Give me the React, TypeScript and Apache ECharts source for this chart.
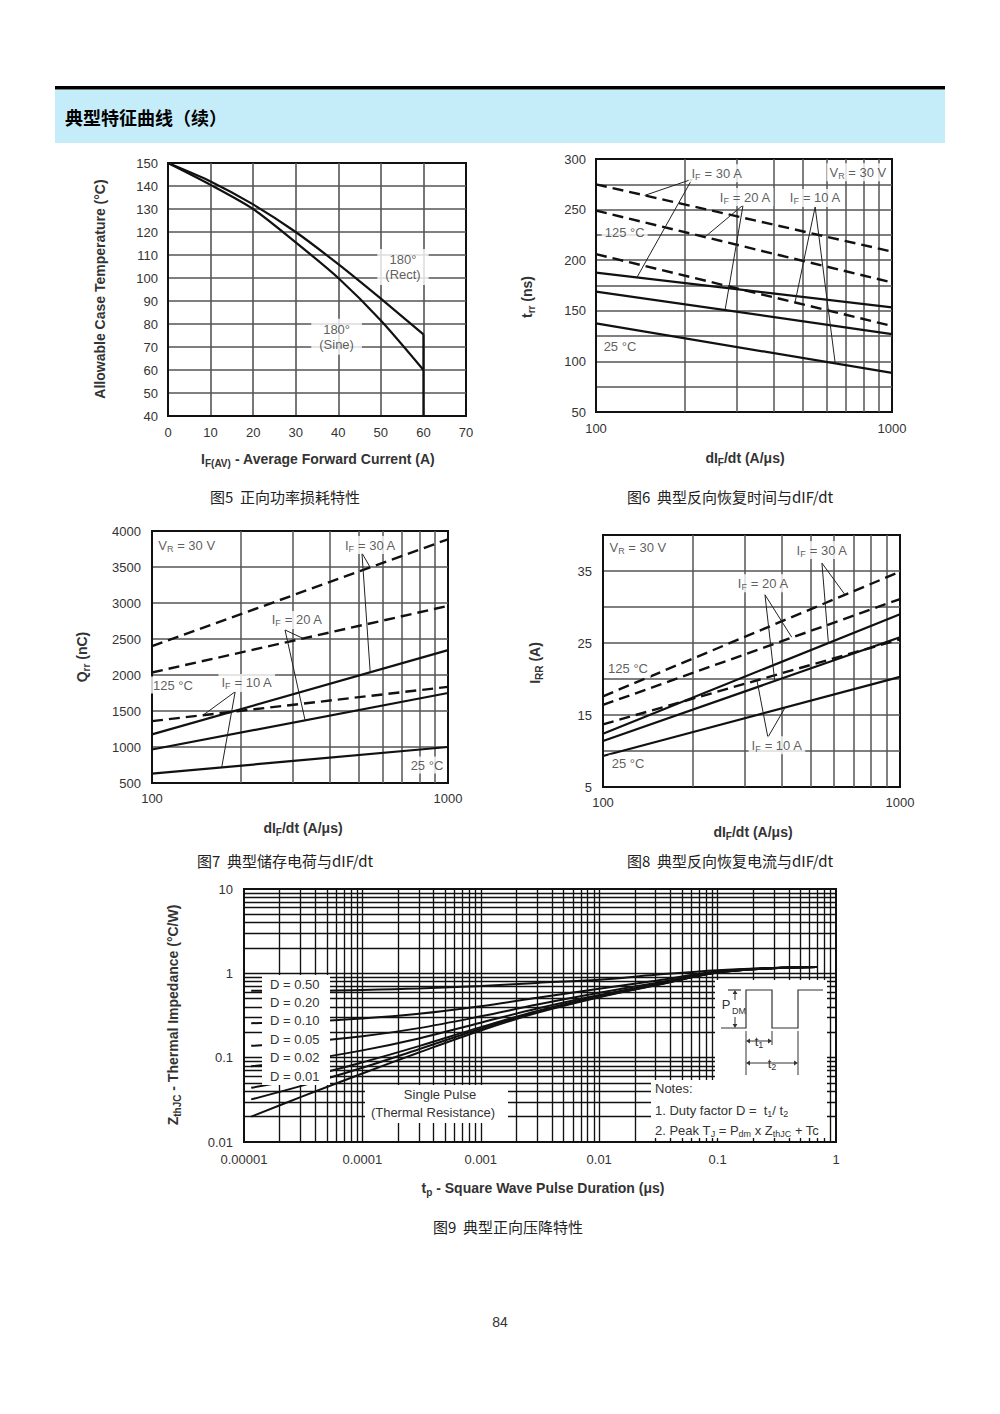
import React, { useEffect, useRef } from "react";
import * as echarts from "echarts";

const FONT = '"Liberation Sans", Arial, Helvetica, sans-serif';
const CJK = '"Noto Sans CJK SC", "Noto Sans", sans-serif';
const TXT = "#333";
const INK = "#111";

/* ---------------- data ---------------- */
// Fig 5 – allowable case temperature vs average forward current
const f5Current = [0, 10, 20, 30, 40, 50, 60];
const f5Rect = [150, 142, 132, 120, 106, 91, 75.5];
const f5Sine = [150, 140.5, 130, 115.5, 100, 81.5, 60];
const f5DropCurrent = [60, 60];
const f5DropTemp = [75.5, 40];

// Fig 6..8 – dIF/dt end points
const f68Rate = [100, 1000];

// Fig 6 – trr (ns)
const f6Dash30 = [275, 208.5];
const f6Dash20 = [249, 178];
const f6Dash10 = [206, 135];
const f6Solid30 = [187.7, 153.4];
const f6Solid20 = [169, 127];
const f6Solid10 = [137.5, 88.6];

// Fig 7 – Qrr (nC)
const f7Dash30 = [2400, 3885];
const f7Dash20 = [2035, 2960];
const f7Dash10 = [1360, 1835];
const f7Solid30 = [1175, 2345];
const f7Solid20 = [965, 1750];
const f7Solid10 = [630, 1000];

// Fig 8 – IRR (A)
const f8Dash30 = [17.6, 34.9];
const f8Dash20 = [16.4, 31.1];
const f8Dash10 = [13.7, 25.5];
const f8Solid30 = [12.4, 29.0];
const f8Solid20 = [11.4, 25.8];
const f8Solid10 = [9.3, 20.3];

// Fig 9 – transient thermal impedance
const f9Time = [1.15e-5, 3e-5, 1e-4, 3e-4, 1e-3, 3e-3, 1e-2, 3e-2, 0.1, 0.3, 0.69];
const f9D50 = [0.62, 0.62, 0.635, 0.66, 0.71, 0.77, 0.84, 0.96, 1.09, 1.16, 1.19];
const f9D20 = [0.256, 0.267, 0.292, 0.332, 0.408, 0.512, 0.656, 0.816, 1.056, 1.16, 1.19];
const f9D10 = [0.138, 0.151, 0.179, 0.224, 0.309, 0.426, 0.588, 0.768, 1.038, 1.155, 1.19];
const f9D05 = [0.079, 0.092, 0.122, 0.169, 0.26, 0.383, 0.554, 0.744, 1.029, 1.153, 1.19];
const f9D02 = [0.044, 0.057, 0.088, 0.137, 0.23, 0.357, 0.534, 0.73, 1.024, 1.151, 1.19];
const f9D01 = [0.032, 0.046, 0.076, 0.126, 0.22, 0.349, 0.527, 0.725, 1.022, 1.15, 1.19];
const f9Single = [0.02, 0.034, 0.065, 0.115, 0.21, 0.34, 0.52, 0.72, 1.02, 1.15, 1.19];
const f9DLabels = ["D = 0.50", "D = 0.20", "D = 0.10", "D = 0.05", "D = 0.02", "D = 0.01"];

/* ---------------- annotations (data coordinates) ---------------- */
const f5Notes = [
  { x: 55.2, y: 104.8, t: "{n|180°}\n{n|(Rect)}" },
  { x: 39.6, y: 74.5, t: "{n|180°}\n{n|(Sine)}" },
];
const f6Notes = [
  { x: 256, y: 286, t: "{n|I}{s|F}{n| = 30 A}" },
  { x: 319, y: 262.4, t: "{n|I}{s|F}{n| = 20 A}" },
  { x: 550, y: 261.5, t: "{n|I}{s|F}{n| = 10 A}" },
  { x: 767, y: 287, t: "{n|V}{s|R}{n| = 30 V}" },
  { x: 125, y: 227, t: "{n|125 °C}" },
  { x: 120.5, y: 115, t: "{n|25 °C}" },
];
const f6Leaders = [
  [[211, 280], [146, 264]], [[211, 280], [137.5, 183]],
  [[314, 254.5], [233.5, 223]], [[314, 254.5], [273, 151]],
  [[550, 252.6], [470, 158]], [[550, 252.6], [643, 98]],
];
const f7Notes = [
  { x: 131, y: 3805, t: "{n|V}{s|R}{n| = 30 V}" },
  { x: 546, y: 3805, t: "{n|I}{s|F}{n| = 30 A}" },
  { x: 309, y: 2764, t: "{n|I}{s|F}{n| = 20 A}" },
  { x: 209, y: 1889, t: "{n|I}{s|F}{n| = 10 A}" },
  { x: 117.7, y: 1861, t: "{n|125 °C}" },
  { x: 849, y: 750, t: "{n|25 °C}" },
];
const f7Leaders = [
  [[512, 3694], [546, 3494]], [[512, 3694], [546, 2038]],
  [[281.5, 2625], [324, 2508]], [[281.5, 2625], [329, 1371]],
  [[191, 1768], [149, 1444]], [[191, 1768], [172, 717]],
];
const f8Notes = [
  { x: 131, y: 38.3, t: "{n|V}{s|R}{n| = 30 V}" },
  { x: 546, y: 37.9, t: "{n|I}{s|F}{n| = 30 A}" },
  { x: 346, y: 33.3, t: "{n|I}{s|F}{n| = 20 A}" },
  { x: 385, y: 10.8, t: "{n|I}{s|F}{n| = 10 A}" },
  { x: 121.4, y: 21.5, t: "{n|125 °C}" },
  { x: 121.4, y: 8.3, t: "{n|25 °C}" },
];
const f8Leaders = [
  [[546, 36.1], [653, 31.7]], [[546, 36.1], [574, 25.0]],
  [[351, 31.7], [432, 25.8]], [[351, 31.7], [379, 19.6]],
  [[359, 11.9], [330, 19.8]], [[359, 11.9], [410, 16.0]],
];

/* ---------------- helpers ---------------- */
const logLines = (e0: number, e1: number) => {
  const out: number[] = [];
  for (let e = e0; e < e1; e++)
    for (let m = 1; m <= 9; m++) {
      if (e === e0 && m === 1) continue;
      out.push(Number((m * Math.pow(10, e)).toPrecision(2)));
    }
  return out;
};

const RICH_L: any = {
  n: { fontSize: 13, color: TXT, fontFamily: FONT, lineHeight: 15 },
  s: { fontSize: 9, color: TXT, fontFamily: FONT, padding: [7, 0, 0, 0] },
};
const RICH_G: any = {
  n: { fontSize: 13, fill: TXT, fontFamily: FONT },
  s: { fontSize: 9, fill: TXT, fontFamily: FONT, padding: [7, 0, 0, 0] },
  b: { fontSize: 14, fontWeight: "bold", fill: TXT, fontFamily: FONT },
  bs: { fontSize: 10, fontWeight: "bold", fill: TXT, fontFamily: FONT, padding: [8, 0, 0, 0] },
};

const pairs = (xs: number[], ys: number[]) => xs.map((x, i) => [x, ys[i]]);

const curve = (g: number, data: number[][], dashed = false, smooth: any = false) => ({
  type: "line", xAxisIndex: g, yAxisIndex: g, data, symbol: "none", showSymbol: false,
  smooth, z: 3, silent: true,
  lineStyle: { color: INK, width: dashed ? 2.4 : 2.2, type: dashed ? [11, 6] : "solid" },
});

// interior grid lines drawn as a 'lines' series so that they go through the axes' scales
const gridLines = (g: number, xs: number[], ys: number[], xExt: number[], yExt: number[], color: string, width: number) => ({
  type: "lines", coordinateSystem: "cartesian2d", xAxisIndex: g, yAxisIndex: g,
  silent: true, z: 1, polyline: false, effect: { show: false },
  lineStyle: { color, width, opacity: 1, curveness: 0, type: "solid" },
  data: [
    ...xs.map((v) => ({ coords: [[v, yExt[0]], [v, yExt[1]]] })),
    ...ys.map((v) => ({ coords: [[xExt[0], v], [xExt[1], v]] })),
  ],
});

const leaderSeries = (g: number, leaders: number[][][]) =>
  leaders.map((l) => ({
    type: "line", xAxisIndex: g, yAxisIndex: g, data: l, symbol: "none", showSymbol: false,
    silent: true, z: 4, lineStyle: { color: "#222", width: 1 },
  }));

const notesSeries = (g: number, notes: any[], pad: number[] = [1, 3]) => ({
  type: "scatter", xAxisIndex: g, yAxisIndex: g, z: 6, silent: true, symbolSize: 1,
  itemStyle: { color: "rgba(0,0,0,0)" },
  label: {
    show: true, position: "inside", backgroundColor: "#fff", padding: pad,
    color: TXT, fontSize: 13, fontFamily: FONT, align: "center", rich: RICH_L,
  },
  data: notes.map((n) => ({ value: [n.x, n.y], label: { formatter: n.t } })),
});

const axisLine = { show: true, onZero: false, lineStyle: { color: INK, width: 2 } };
const lbl = (margin: number, extra: any = {}) => ({
  color: TXT, fontSize: 13, fontFamily: FONT, margin, showMinLabel: true, showMaxLabel: true,
  formatter: (v: number) => String(v), ...extra,
});
const split = (color: string, width: number) => ({
  show: true, showMinLine: false, showMaxLine: false, lineStyle: { color, width, type: "solid" },
});
const noSplit = { show: false };

const decadeLabel = (v: number) => {
  const e = Math.round(Math.log10(v));
  return e >= 0 ? String(Math.round(Math.pow(10, e))) : "0." + "0".repeat(-e - 1) + "1";
};

const T = (x: number, y: number, text: string, o: any = {}) => ({
  type: "text", x, y, z: 120, rotation: o.rot || 0, silent: true,
  style: {
    text, rich: RICH_G, fill: o.fill || TXT, fontSize: o.size || 13,
    fontWeight: o.bold ? "bold" : "normal", fontFamily: o.family || FONT,
    align: o.align || "center", verticalAlign: "middle",
    backgroundColor: o.bg, padding: o.pad,
  },
});
const R = (x: number, y: number, w: number, h: number, fill = "#fff", z = 100) => ({
  type: "rect", z, silent: true, shape: { x, y, width: w, height: h }, style: { fill },
});
const L = (pts: number[][], w = 1.2) => ({
  type: "polyline", z: 121, silent: true, shape: { points: pts },
  style: { stroke: "#333", lineWidth: w, fill: "none" },
});
const head = (x: number, y: number, dir: string) => {
  const a = 4, b = 2.4;
  const pts =
    dir === "up" ? [[x, y], [x - b, y + a], [x + b, y + a]] :
    dir === "down" ? [[x, y], [x - b, y - a], [x + b, y - a]] :
    dir === "left" ? [[x, y], [x + a, y - b], [x + a, y + b]] :
    [[x, y], [x - a, y - b], [x - a, y + b]];
  return { type: "polygon", z: 122, silent: true, shape: { points: pts }, style: { fill: "#333" } };
};

/* ---------------- option ---------------- */
const gridBase = { show: true, borderColor: INK, borderWidth: 2, containLabel: false, outerBoundsMode: "none" };

const buildOption = () => {
  const G5 = "#555";
  const series: any[] = [];

  // Fig 5
  series.push(curve(0, pairs(f5Current, f5Rect), false, 0.25));
  series.push(curve(0, pairs(f5Current, f5Sine), false, 0.25));
  series.push(curve(0, pairs(f5DropCurrent, f5DropTemp)));
  series.push(notesSeries(0, f5Notes, [3, 8]));

  // Fig 6
  series.push(gridLines(1, logLines(2, 3), [], [100, 1000], [50, 300], G5, 1.5));
  [f6Dash30, f6Dash20, f6Dash10].forEach((d) => series.push(curve(1, pairs(f68Rate, d), true)));
  [f6Solid30, f6Solid20, f6Solid10].forEach((d) => series.push(curve(1, pairs(f68Rate, d))));
  series.push(...leaderSeries(1, f6Leaders));
  series.push(notesSeries(1, f6Notes));

  // Fig 7
  series.push(gridLines(2, logLines(2, 3), [], [100, 1000], [500, 4000], G5, 1.5));
  [f7Dash30, f7Dash20, f7Dash10].forEach((d) => series.push(curve(2, pairs(f68Rate, d), true)));
  [f7Solid30, f7Solid20, f7Solid10].forEach((d) => series.push(curve(2, pairs(f68Rate, d))));
  series.push(...leaderSeries(2, f7Leaders));
  series.push(notesSeries(2, f7Notes));

  // Fig 8
  series.push(gridLines(3, logLines(2, 3), [], [100, 1000], [5, 40], G5, 1.5));
  [f8Dash30, f8Dash20, f8Dash10].forEach((d) => series.push(curve(3, pairs(f68Rate, d), true)));
  [f8Solid30, f8Solid20, f8Solid10].forEach((d) => series.push(curve(3, pairs(f68Rate, d))));
  series.push(...leaderSeries(3, f8Leaders));
  series.push(notesSeries(3, f8Notes));

  // Fig 9
  series.push(gridLines(4, logLines(-5, 0), logLines(-2, 1), [0.00001, 1], [0.01, 10], "#111", 1.35));
  [f9D50, f9D20, f9D10, f9D05, f9D02, f9D01, f9Single].forEach((d) =>
    series.push({ ...curve(4, pairs(f9Time, d), false, 0.35), lineStyle: { color: INK, width: 2 } })
  );

  const graphic: any[] = [
    // header
    R(55, 86, 890, 3.5, "#000", 10),
    R(55, 90, 890, 53, "#c5ecf9", 10),
    T(65, 117, "典型特征曲线（续）", { family: CJK, size: 18, bold: true, align: "left", fill: "#000" }),

    // Fig 5
    T(100, 289, "Allowable Case Temperature (°C)", { rot: Math.PI / 2, bold: true, size: 14 }),
    T(318, 459, "{b|I}{bs|F(AV)}{b| - Average Forward Current (A)}"),
    T(285, 496, "图5  正向功率损耗特性", { family: CJK, size: 15, fill: "#222" }),

    // Fig 6
    T(527, 297, "{b|t}{bs|rr}{b| (ns)}", { rot: Math.PI / 2 }),
    T(745, 458, "{b|dI}{bs|F}{b|/dt (A/μs)}"),
    T(730, 496, "图6  典型反向恢复时间与dIF/dt", { family: CJK, size: 15, fill: "#222" }),

    // Fig 7
    T(82, 657, "{b|Q}{bs|rr}{b| (nC)}", { rot: Math.PI / 2 }),
    T(303, 828, "{b|dI}{bs|F}{b|/dt (A/μs)}"),
    T(285, 860, "图7  典型储存电荷与dIF/dt", { family: CJK, size: 15, fill: "#222" }),

    // Fig 8
    T(535, 663, "{b|I}{bs|RR}{b| (A)}", { rot: Math.PI / 2 }),
    T(753, 832, "{b|dI}{bs|F}{b|/dt (A/μs)}"),
    T(730, 860, "图8  典型反向恢复电流与dIF/dt", { family: CJK, size: 15, fill: "#222" }),

    // Fig 9 boxes
    R(262, 975, 68, 110),
    R(365, 1085, 143, 38),
    R(715, 980, 112, 100),
    R(651, 1080, 176, 58),
    ...f9DLabels.map((t, i) => T(270, 984 + i * 18.4, t, { align: "left" })),
    T(440, 1094, "Single Pulse"),
    T(433, 1112, "(Thermal Resistance)"),
    T(655, 1088, "Notes:", { align: "left" }),
    T(655, 1110, "{n|1. Duty factor D =  t}{s|1}{n|/ t}{s|2}", { align: "left" }),
    T(655, 1130, "{n|2. Peak T}{s|J}{n| = P}{s|dm}{n| x Z}{s|thJC}{n| + Tc}", { align: "left" }),
    // waveform inset
    L([[721, 1028], [746, 1028], [746, 990], [772, 990], [772, 1028], [798, 1028], [798, 990], [823, 990]]),
    L([[728, 990], [741, 990]]),
    L([[735, 994], [735, 1000]], 1), head(735, 990, "up"),
    L([[735, 1017], [735, 1024]], 1), head(735, 1028, "down"),
    T(726, 1004, "P"),
    T(739, 1011, "DM", { size: 9 }),
    L([[746, 1031], [746, 1075]], 1),
    L([[772, 1031], [772, 1045]], 1),
    L([[798, 1031], [798, 1075]], 1),
    L([[750, 1041], [768, 1041]], 1), head(746, 1041, "left"), head(772, 1041, "right"),
    T(759, 1041, "{n|t}{s|1}", { bg: "#fff", pad: [0, 1] }),
    L([[750, 1063], [794, 1063]], 1), head(746, 1063, "left"), head(798, 1063, "right"),
    T(772, 1063, "{n|t}{s|2}", { bg: "#fff", pad: [0, 2] }),
    T(173, 1015, "{b|Z}{bs|thJC}{b| - Thermal Impedance (°C/W)}", { rot: Math.PI / 2 }),
    T(543, 1188, "{b|t}{bs|p}{b| - Square Wave Pulse Duration (μs)}"),
    T(508, 1226, "图9  典型正向压降特性", { family: CJK, size: 15, fill: "#222" }),

    T(500, 1322, "84", { size: 14 }),
  ];

  return {
    animation: false,
    backgroundColor: "#fff",
    grid: [
      { ...gridBase, left: 168, top: 163, width: 298, height: 253 },
      { ...gridBase, left: 596, top: 159, width: 296, height: 253 },
      { ...gridBase, left: 152, top: 531, width: 296, height: 252 },
      { ...gridBase, left: 603, top: 535, width: 297, height: 252 },
      { ...gridBase, left: 244, top: 889, width: 592, height: 253 },
    ],
    xAxis: [
      { gridIndex: 0, type: "value", min: 0, max: 70, interval: 10, axisLine, axisTick: { show: false }, axisLabel: lbl(10), splitLine: split(G5, 1.6) },
      { gridIndex: 1, type: "log", logBase: 10, min: 100, max: 1000, axisLine, axisTick: { show: false }, axisLabel: lbl(10, { formatter: (v: number) => String(Math.round(v)) }), splitLine: noSplit },
      { gridIndex: 2, type: "log", logBase: 10, min: 100, max: 1000, axisLine, axisTick: { show: false }, axisLabel: lbl(9, { formatter: (v: number) => String(Math.round(v)) }), splitLine: noSplit },
      { gridIndex: 3, type: "log", logBase: 10, min: 100, max: 1000, axisLine, axisTick: { show: false }, axisLabel: lbl(9, { formatter: (v: number) => String(Math.round(v)) }), splitLine: noSplit },
      { gridIndex: 4, type: "log", logBase: 10, min: 0.00001, max: 1, axisLine, axisTick: { show: false }, axisLabel: lbl(11, { formatter: decadeLabel }), splitLine: noSplit },
    ],
    yAxis: [
      { gridIndex: 0, type: "value", min: 40, max: 150, interval: 10, axisLine, axisTick: { show: false }, axisLabel: lbl(10), splitLine: split(G5, 1.6) },
      { gridIndex: 1, type: "value", min: 50, max: 300, interval: 25, axisLine, axisTick: { show: false }, axisLabel: lbl(10, { formatter: (v: number) => (v % 50 === 0 ? String(v) : "") }), splitLine: split(G5, 1.5) },
      { gridIndex: 2, type: "value", min: 500, max: 4000, interval: 500, axisLine, axisTick: { show: false }, axisLabel: lbl(11), splitLine: split(G5, 1.5) },
      { gridIndex: 3, type: "value", min: 5, max: 40, interval: 5, axisLine, axisTick: { show: false }, axisLabel: lbl(11, { formatter: (v: number) => ((v - 5) % 10 === 0 ? String(v) : "") }), splitLine: split(G5, 1.5) },
      { gridIndex: 4, type: "log", logBase: 10, min: 0.01, max: 10, axisLine, axisTick: { show: false }, axisLabel: lbl(11, { formatter: decadeLabel }), splitLine: noSplit },
    ],
    series,
    graphic,
  };
};

export default function App() {
  const ref = useRef<HTMLDivElement>(null);
  useEffect(() => {
    if (!ref.current) return;
    const chart = echarts.init(ref.current, null, { renderer: "svg", width: 1000, height: 1414 });
    chart.setOption(buildOption() as any);
    return () => chart.dispose();
  }, []);
  return (
    <div
      ref={ref}
      style={{ position: "absolute", left: 0, top: 0, width: 1000, height: 1414, background: "#fff" }}
    />
  );
}
